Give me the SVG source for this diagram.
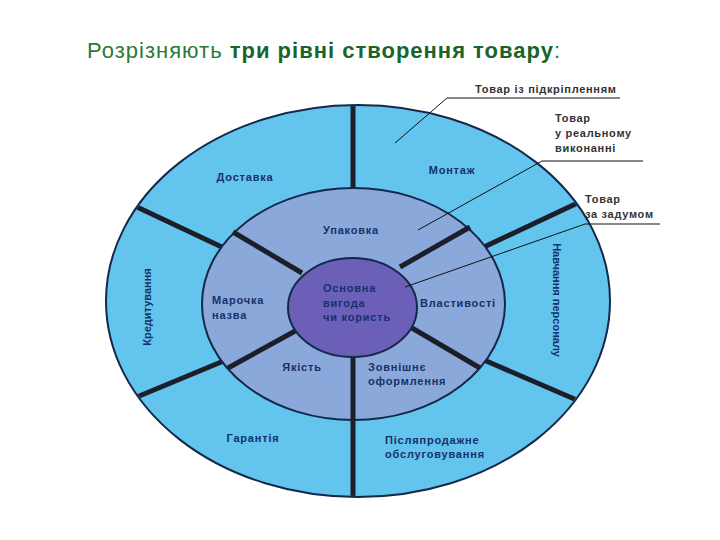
<svg xmlns="http://www.w3.org/2000/svg" width="720" height="540" viewBox="0 0 720 540">
<style>
.title{font-family:"Liberation Sans",Arial,sans-serif;font-size:22px;fill:#2a7a36}
.b{font-weight:bold;fill:#1a6429}
.lbl{font-family:"Liberation Sans",Arial,sans-serif;font-size:11px;font-weight:bold;fill:#16316a;letter-spacing:0.8px}
.vl{letter-spacing:0px}
.out{font-family:"Liberation Sans",Arial,sans-serif;font-size:11px;font-weight:bold;fill:#333;letter-spacing:0.7px}
.div{stroke:#1c1f2a;stroke-width:5;fill:none}
.lead{stroke:#111;stroke-width:1;fill:none}
</style>
<defs>
<clipPath id="clipOuter"><ellipse cx="358" cy="301" rx="251" ry="195"/></clipPath>
</defs>
<rect width="720" height="540" fill="#fff"/>
<text class="title" x="87" y="58" textLength="473" lengthAdjust="spacing">Розрізняють <tspan class="b">три рівні створення товару</tspan>:</text>

<g id="outer-ring">
<ellipse cx="358" cy="301" rx="252" ry="196" fill="#63c4ee" stroke="#14284a" stroke-width="2"/>
</g>
<g id="outer-dividers" clip-path="url(#clipOuter)">
<line class="div" x1="353" y1="100" x2="353" y2="195"/>
<line class="div" x1="120" y1="199" x2="226" y2="249"/>
<line class="div" x1="586" y1="199" x2="484" y2="247"/>
<line class="div" x1="120" y1="404" x2="226" y2="360"/>
<line class="div" x1="586" y1="404" x2="484" y2="360"/>
</g>
<g id="middle-ring">
<ellipse cx="353.5" cy="304" rx="151.5" ry="116" fill="#8ba8da" stroke="#14284a" stroke-width="2"/>
</g>
<g id="middle-dividers" clip-path="url(#clipOuter)">
<line class="div" x1="233" y1="232" x2="302" y2="273"/>
<line class="div" x1="470" y1="227" x2="400" y2="267"/>
<line class="div" x1="228" y1="368" x2="297" y2="330"/>
<line class="div" x1="412" y1="328" x2="480" y2="368"/>
<line class="div" x1="353" y1="350" x2="353" y2="500"/>
</g>
<g id="core">
<ellipse cx="352.5" cy="307.5" rx="64.5" ry="49.5" fill="#6b5fb8" stroke="#14284a" stroke-width="2"/>
<text class="lbl" x="323" y="292">Основна</text>
<text class="lbl" x="323" y="307">вигода</text>
<text class="lbl" x="323" y="321">чи користь</text>
</g>

<g id="n-dostavka"><text class="lbl" x="245" y="181" text-anchor="middle">Доставка</text></g>
<g id="n-montazh"><text class="lbl" x="452" y="174" text-anchor="middle">Монтаж</text></g>
<g id="n-upakovka"><text class="lbl" x="351" y="234" text-anchor="middle">Упаковка</text></g>
<g id="n-marochka"><text class="lbl" x="212" y="304">Марочка</text><text class="lbl" x="212" y="319">назва</text></g>
<g id="n-vlastyvosti"><text class="lbl" x="458" y="307" text-anchor="middle">Властивості</text></g>
<g id="n-yakist"><text class="lbl" x="302" y="371" text-anchor="middle">Якість</text></g>
<g id="n-zovnishnie"><text class="lbl" x="368" y="371">Зовнішнє</text><text class="lbl" x="368" y="385">оформлення</text></g>
<g id="n-harantiia"><text class="lbl" x="253" y="442" text-anchor="middle">Гарантія</text></g>
<g id="n-pisliaprodazhne"><text class="lbl" x="385" y="444">Післяпродажне</text><text class="lbl" x="385" y="458">обслуговування</text></g>
<g id="n-kredytuvannia"><text class="lbl vl" transform="translate(151,307) rotate(-90)" text-anchor="middle">Кредитування</text></g>
<g id="n-navchannia"><text class="lbl vl" transform="translate(553,300) rotate(90)" text-anchor="middle">Навчання персоналу</text></g>

<g id="connectors">
<polyline class="lead" points="395,143 447,98 620,98"/>
<polyline class="lead" points="418,230 542,161 643,161"/>
<polyline class="lead" points="405,287 585,224 660,224"/>
</g>
<g id="l-pidkriplennia"><text class="out" x="475" y="93">Товар із підкріпленням</text></g>
<g id="l-realnomu"><text class="out" x="555" y="122">Товар</text><text class="out" x="555" y="137">у  реальному</text><text class="out" x="555" y="152">виконанні</text></g>
<g id="l-zadumom"><text class="out" x="585" y="203">Товар</text><text class="out" x="585" y="218">за задумом</text></g>
</svg>
